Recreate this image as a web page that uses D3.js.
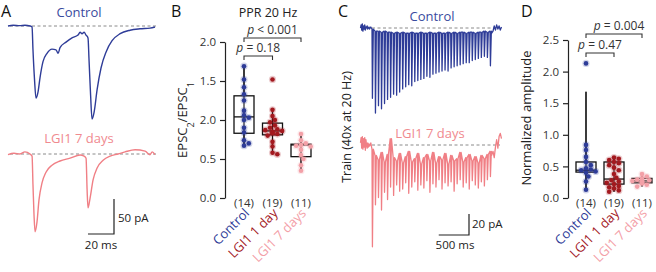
<!DOCTYPE html>
<html>
<head>
<meta charset="utf-8">
<script src="https://cdn.jsdelivr.net/npm/d3@7"></script>
<style>
    html, body { margin: 0; padding: 0; background: #fff; }
    svg { display: block; font-family: 'Open Sans', sans-serif; }
    .tick text { font-size: 11.5px; fill: #333; font-family: 'Open Sans', sans-serif; }
    .tick line, .domain { stroke: #222; stroke-width: 1.2px; }
</style>
</head>
<body>
<div id="fig"></div>
<script>
'use strict';

// Groups
const groups = ['Control', 'LGI1 1 day', 'LGI1 7 days'];
const groupCounts = ['(14)', '(19)', '(11)'];
const groupColors = ['#2e3c98', '#a3191f', '#f3a0a7'];
const traceColors = ['#2e3c98', '#f07f85'];

// A: paired EPSCs (ms, pA)
const pairCtrlT = [0, 4, 9, 13, 17, 18.5, 19.2, 20.4, 21.5, 23.1, 24.6, 26.9, 30, 33.8, 36.9, 38.5, 40, 44.6, 49.2, 53.8, 55.4, 56.9, 58.5, 60, 61.5, 62.3, 63.5, 64.6, 66.2, 68.5, 71.5, 75.4, 80, 86.2, 93.8, 101.5, 109.2, 113];
const pairCtrlI = [0, 1, 0.5, 1, 0, -1.4, -34, -77, -103, -94, -74, -51, -39, -33, -34, -39, -31, -23, -17, -13, -9, -11, -9, -13, -17, -49, -99, -133, -123, -91, -60, -37, -21, -11, -6, -4, -3, -1.4];
const pairDay7T = [0, 4.6, 9.2, 13, 16.9, 18.5, 19.2, 20, 20.8, 22.3, 23.8, 26.2, 29.2, 33.8, 40, 47.7, 55.4, 58.5, 60, 60.8, 61.5, 63.1, 65.4, 68.5, 73.1, 78.5, 84.6, 90, 97.7, 105.4, 109.2, 110.8, 113];
const pairDay7I = [-1, 1, 0, 3, 0, -3, -44, -87, -111, -97, -66, -41, -26, -16, -10, -6, -1.4, -3, -6, -51, -77, -63, -37, -20, -9, -3, 0, 3, 6, 4, -1, 3, -1];

// B: paired-pulse ratio
const pprTicks = [0, 0.5, 1, 1.5, 2];
const pprTickLabels = ['0.0', '0.5', '2.0', '1.5', '2.0'];
const pprControl = [1.69, 1.52, 1.42, 1.33, 1.25, 1.12, 1.06, 1.03, 1.00, 0.90, 0.84, 0.74, 0.70, 0.67];
const pprDay1 = [1.52, 1.13, 1.05, 1.00, 0.97, 0.93, 0.90, 0.88, 0.87, 0.86, 0.85, 0.84, 0.83, 0.82, 0.80, 0.72, 0.66, 0.58, 0.56];
const pprDay7 = [0.82, 0.74, 0.70, 0.68, 0.67, 0.66, 0.62, 0.55, 0.50, 0.42, 0.35];
const pprQ1 = [0.83, 0.81, 0.53];
const pprMedian = [1.04, 0.86, 0.68];
const pprQ3 = [1.31, 0.96, 0.69];
const pprLo = [0.67, 0.56, 0.34];
const pprHi = [1.69, 1.13, 0.83];

// C: 40 pulses at 20 Hz (pA)
const trainCtrlPeak = [-67, -81, -74, -77, -72, -68, -66, -63, -64, -61, -58, -56, -54, -55, -51, -50, -49, -48, -46, -47, -44, -43, -42, -41, -40, -41, -38, -37, -36, -35, -34, -33, -33, -31, -30, -29, -28, -27, -28, -36];
const trainCtrlRest = [-1, -3, -3, -4, -3, -4, -4, -5, -4, -5, -4, -5, -5, -4, -5, -5, -4, -5, -5, -4, -5, -5, -4, -5, -5, -4, -5, -4, -5, -4, -4, -5, -4, -4, -5, -4, -4, -3, -4, -3];
const trainDay7Peak = [-97, -57, -50, -62, -45, -52, -40, -48, -38, -44, -42, -36, -46, -40, -35, -43, -38, -41, -34, -45, -37, -40, -33, -42, -36, -39, -35, -44, -37, -33, -40, -36, -42, -34, -38, -41, -35, -39, -33, -30];
const trainDay7Rest = [-4, -10, -14, -7, -16, -9, 6, -12, -15, -8, -17, -11, -6, -16, -13, -8, -18, -12, -9, -15, -7, -17, -11, -14, -8, -18, -10, -15, -13, -7, -16, -12, -9, -15, -11, -17, -10, -13, -9, -6];
const trainPreT = [-190, -180, -170, -160, -150, -140, -130, -120, -110, -100, -90, -80, -70, -60, -50, -40, -30, -20, -10];
const trainCtrlPreI = [0, 3, -2, 4, -3, 2, -1, 3, -2, 1, 0, 2, -1, 0, 1, -1, 0, 1, 0];
const trainDay7PreI = [2, 7, -3, 8, -4, 6, -2, 7, -5, 5, 0, -3, 2, -2, 1, -1, 0, 2, -1];
const trainPostT = [1975, 2000, 2020, 2040, 2060, 2080, 2100, 2120, 2140];
const trainCtrlPostI = [-5, -3, 2, -2, 3, -1, 2, -2, 1];
const trainDay7PostI = [-10, -6, -12, -2, 5, -3, 8, 11, 6];
const pulseInterval = 50;

// D: normalized amplitude
const ampTicks = [0, 0.5, 1, 1.5, 2, 2.5];
const ampTickLabels = ['0.0', '0.5', '1.0', '1.5', '2.0', '2.5'];
const ampControl = [2.13, 0.84, 0.76, 0.65, 0.57, 0.52, 0.47, 0.45, 0.44, 0.42, 0.40, 0.34, 0.26, 0.13];
const ampDay1 = [0.64, 0.62, 0.60, 0.57, 0.55, 0.52, 0.48, 0.44, 0.38, 0.32, 0.28, 0.26, 0.24, 0.22, 0.19, 0.17, 0.15, 0.12, 0.10];
const ampDay7 = [0.38, 0.34, 0.31, 0.29, 0.28, 0.27, 0.26, 0.25, 0.23, 0.21, 0.18];
const ampQ1 = [0.41, 0.22, 0.24];
const ampMedian = [0.44, 0.30, 0.27];
const ampQ3 = [0.57, 0.57, 0.31];
const ampLo = [0.13, 0.10, 0.18];
const ampHi = [1.68, 0.64, 0.38];

// Config
const W = 656, H = 272;
const svg = d3.select('#fig').append('svg')
    .attr('width', W)
    .attr('height', H);

// Panel letters
[['A', 1, 17], ['B', 171, 17], ['C', 338, 17], ['D', 521, 17]].forEach(l => {
    svg.append('text')
        .attr('x', l[1]).attr('y', l[2])
        .style('font-size', '16px')
        .style('fill', '#111')
        .text(l[0]);
});

function dashed(x0, x1, y) {
    svg.append('line')
        .attr('x1', x0).attr('x2', x1)
        .attr('y1', y).attr('y2', y)
        .style('stroke', '#8a8a8a')
        .style('stroke-width', 1)
        .style('stroke-dasharray', '3,2.5');
}

function label(x, y, txt, color, size, anchor) {
    return svg.append('text')
        .attr('x', x).attr('y', y)
        .attr('text-anchor', anchor || 'middle')
        .style('font-size', `${size}px`)
        .style('fill', color)
        .text(txt);
}

// ---------- A ----------
const xA = d3.scaleLinear().domain([0, 113]).range([8, 155]);
const yA1 = d3.scaleLinear().domain([0, -50]).range([26, 61]);
const yA2 = d3.scaleLinear().domain([0, -50]).range([154, 189]);

dashed(10, 157, yA1(0));
dashed(10, 157, yA2(0));

[[pairCtrlT, pairCtrlI, yA1, traceColors[0]], [pairDay7T, pairDay7I, yA2, traceColors[1]]].forEach(s => {
    const pts = s[0].map((t, i) => [t, s[1][i]]);
    svg.append('path')
        .datum(pts)
        .attr('d', d3.line().x(d => xA(d[0])).y(d => s[2](d[1])).curve(d3.curveMonotoneX))
        .style('fill', 'none')
        .style('stroke', s[3])
        .style('stroke-width', 1.4);
});

label(79, 17, 'Control', '#3a4a9e', 13);
label(79, 143, 'LGI1 7 days', '#f08a8f', 13);

// Scale bar A
const sbAx = 114, sbAy = 234;
svg.append('path')
    .attr('d', `M${sbAx - (xA(20) - xA(0))},${sbAy}H${sbAx}V${sbAy - (yA2(-50) - yA2(0))}`)
    .style('fill', 'none').style('stroke', '#222').style('stroke-width', 1.2);
label(118, 222, '50 pA', '#222', 11.5, 'start');
label(101, 249, '20 ms', '#222', 11.5);

// ---------- C ----------
const xC = d3.scaleLinear().domain([0, 1950]).range([372, 490]);
const yC1 = d3.scaleLinear().domain([0, -100]).range([28, 133]);
const yC2 = d3.scaleLinear().domain([0, -100]).range([145, 250]);

dashed(372, 500, yC1(0));
dashed(372, 500, yC2(0));

function trainPoints(preI, peaks, rests, postI) {
    const pts = trainPreT.map((t, i) => [t, preI[i]]);
    peaks.forEach((p, i) => {
        const t0 = i * pulseInterval;
        pts.push([t0, rests[i]]);
        pts.push([t0 + 7, p]);
        pts.push([t0 + 22, rests[i]]);
    });
    trainPostT.forEach((t, i) => pts.push([t, postI[i]]));
    return pts;
}

[[trainPoints(trainCtrlPreI, trainCtrlPeak, trainCtrlRest, trainCtrlPostI), yC1, traceColors[0]],
 [trainPoints(trainDay7PreI, trainDay7Peak, trainDay7Rest, trainDay7PostI), yC2, traceColors[1]]].forEach(s => {
    svg.append('path')
        .datum(s[0])
        .attr('d', d3.line().x(d => xC(d[0])).y(d => s[1](d[1])))
        .style('fill', 'none')
        .style('stroke', s[2])
        .style('stroke-width', 1.3)
        .style('stroke-linejoin', 'round');
});

label(432, 21, 'Control', '#3a4a9e', 13);
label(430, 138, 'LGI1 7 days', '#f08a8f', 13);

svg.append('text')
    .attr('transform', 'translate(351,127) rotate(-90)')
    .attr('text-anchor', 'middle')
    .style('font-size', '12.5px')
    .style('fill', '#222')
    .text('Train (40x at 20 Hz)');

// Scale bar C
const sbCx = 469, sbCy = 235;
svg.append('path')
    .attr('d', `M${sbCx - (xC(500) - xC(0))},${sbCy}H${sbCx}V${sbCy - (yC2(-20) - yC2(0))}`)
    .style('fill', 'none').style('stroke', '#222').style('stroke-width', 1.2);
label(472, 228, '20 pA', '#222', 11.5, 'start');
label(455, 249, '500 ms', '#222', 11.5);

// ---------- B & D ----------
function swarm(values, yScale, r) {
    const placed = [];
    values.map(v => ({v: v, y: yScale(v)}))
        .sort((a, b) => a.y - b.y)
        .forEach(p => {
            const steps = [0, 1, -1, 2, -2, 3, -3, 4, -4];
            p.x = 0;
            for (const k of steps) {
                const x = k * r * 1.05;
                if (placed.every(q => (q.x - x) ** 2 + (q.y - p.y) ** 2 >= (r * 1.75) ** 2)) {
                    p.x = x;
                    break;
                }
            }
            placed.push(p);
        });
    return placed;
}

function boxPanel(cfg) {
    const y = d3.scaleLinear().domain(cfg.domain).range(cfg.yRange);
    const x = d3.scalePoint().domain(groups).range(cfg.xRange);

    // Axis
    svg.append('g')
        .attr('transform', `translate(${cfg.axisX},0)`)
        .call(d3.axisLeft(y)
            .tickValues(cfg.ticks)
            .tickFormat((d, i) => cfg.tickLabels[i])
            .tickSize(5)
            .tickSizeOuter(0)
            .tickPadding(4));

    // Boxes
    const bw = 10;
    groups.forEach((g, i) => {
        const cx = x(g);
        const gg = svg.append('g');
        gg.append('line')
            .attr('x1', cx).attr('x2', cx)
            .attr('y1', y(cfg.lo[i])).attr('y2', y(cfg.hi[i]))
            .style('stroke', '#111').style('stroke-width', 1.2);
        gg.append('rect')
            .attr('x', cx - bw).attr('width', bw * 2)
            .attr('y', y(cfg.q3[i])).attr('height', y(cfg.q1[i]) - y(cfg.q3[i]))
            .style('fill', '#fff').style('stroke', '#111').style('stroke-width', 1.3);
        gg.append('line')
            .attr('x1', cx - bw).attr('x2', cx + bw)
            .attr('y1', y(cfg.median[i])).attr('y2', y(cfg.median[i]))
            .style('stroke', '#111').style('stroke-width', 1.3);
        gg.append('line')
            .attr('x1', cx).attr('x2', cx)
            .attr('y1', y(cfg.lo[i])).attr('y2', y(cfg.hi[i]))
            .style('stroke', '#111').style('stroke-width', 1.1);

        // Points
        const pts = swarm(cfg.values[i], y, 2.3);
        gg.selectAll('.halo').data(pts).join('circle')
            .attr('cx', d => cx + d.x).attr('cy', d => d.y)
            .attr('r', 3.6)
            .style('fill', groupColors[i]).style('opacity', 0.22);
        gg.selectAll('.dot').data(pts).join('circle')
            .attr('cx', d => cx + d.x).attr('cy', d => d.y)
            .attr('r', 2.3)
            .style('fill', groupColors[i]);

        // Counts
        label(cx, 207, groupCounts[i], '#333', 11.5);

        // Category labels
        svg.append('text')
            .attr('transform', `translate(${cx + 6},${214}) rotate(-45)`)
            .attr('text-anchor', 'end')
            .style('font-size', '13px')
            .style('fill', groupColors[i])
            .text(g);
    });

    // Brackets
    cfg.brackets.forEach(b => {
        const x0 = x(groups[b.from]), x1 = x(groups[b.to]);
        svg.append('path')
            .attr('d', `M${x0},${b.y + 4}V${b.y}H${x1}V${b.y + 4}`)
            .style('fill', 'none').style('stroke', '#333').style('stroke-width', 1.1);
        const t = label((x0 + x1) / 2 + (b.dx || 0), b.y - 4, '', '#333', 12);
        t.append('tspan').style('font-style', 'italic').text('p');
        t.append('tspan').text(` ${b.text}`);
    });

    // Y label
    const yl = svg.append('text')
        .attr('transform', `translate(${cfg.yLabelX},${cfg.yLabelY}) rotate(-90)`)
        .attr('text-anchor', 'middle')
        .style('font-size', '13px')
        .style('fill', '#222');
    cfg.yLabel.forEach(p => {
        yl.append('tspan')
            .attr('baseline-shift', p[1] ? 'sub' : null)
            .style('font-size', p[1] ? '9px' : null)
            .text(p[0]);
    });
}

boxPanel({
    domain: [0, 2], yRange: [198, 42], xRange: [244, 301], axisX: 225,
    ticks: pprTicks, tickLabels: pprTickLabels,
    values: [pprControl, pprDay1, pprDay7],
    q1: pprQ1, median: pprMedian, q3: pprQ3, lo: pprLo, hi: pprHi,
    brackets: [
        {from: 0, to: 1, y: 56, text: '= 0.18'},
        {from: 0, to: 2, y: 38, text: '< 0.001'}
    ],
    yLabel: [['EPSC', false], ['2', true], ['/EPSC', false], ['1', true]],
    yLabelX: 187, yLabelY: 120
});

label(268, 17, 'PPR 20 Hz', '#222', 12.5);

boxPanel({
    domain: [0, 2.5], yRange: [198, 40], xRange: [586, 642], axisX: 568,
    ticks: ampTicks, tickLabels: ampTickLabels,
    values: [ampControl, ampDay1, ampDay7],
    q1: ampQ1, median: ampMedian, q3: ampQ3, lo: ampLo, hi: ampHi,
    brackets: [
        {from: 0, to: 1, y: 53, text: '= 0.47'},
        {from: 0, to: 2, y: 34, text: '= 0.004', dx: 5}
    ],
    yLabel: [['Normalized amplitude', false]],
    yLabelX: 531, yLabelY: 118
});
</script>
</body>
</html>
